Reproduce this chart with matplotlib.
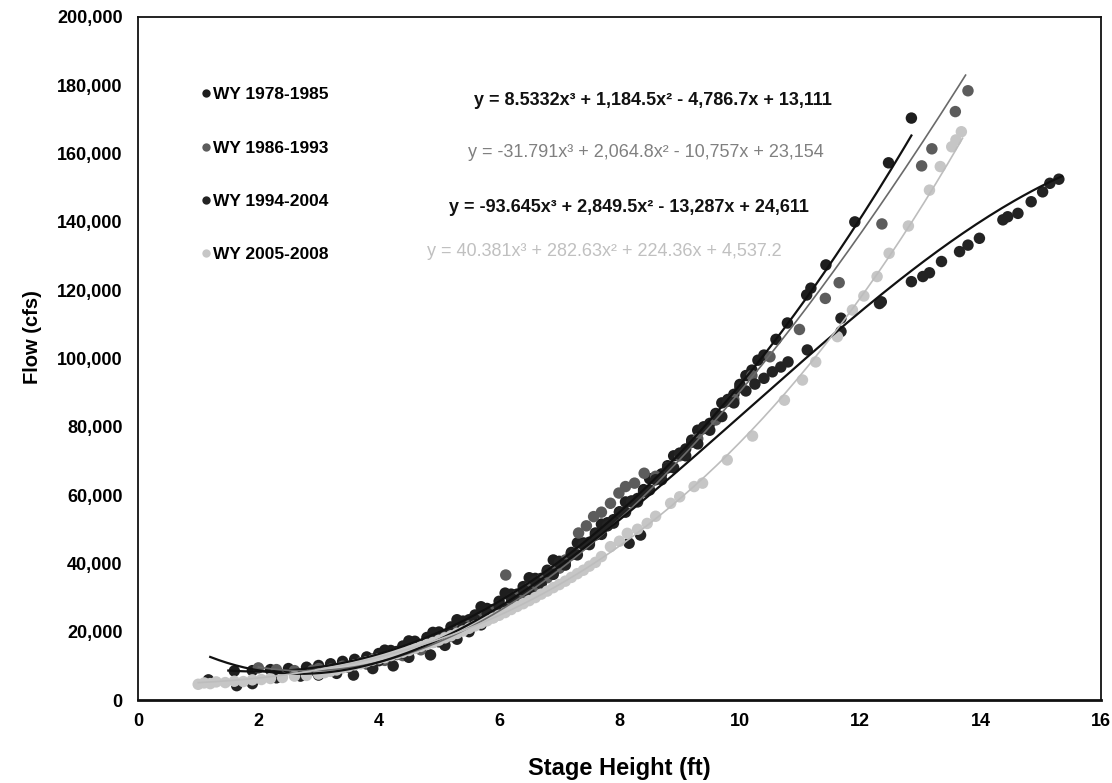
import numpy as np
import matplotlib
matplotlib.use("Agg")
import matplotlib.pyplot as plt
from matplotlib.ticker import StrMethodFormatter
from matplotlib.lines import Line2D

plt.rcParams["font.family"] = ["Liberation Sans", "DejaVu Sans"]

# WY 1978-1985
x_7885 = [1.6, 1.9, 2.2, 2.5, 2.8, 3.0, 3.2, 3.4, 3.6, 3.8, 4.0, 4.2, 4.4, 4.6, 4.8,
          5.0, 5.2, 5.4, 5.6, 5.8, 6.0, 6.2, 6.4, 6.6, 6.8, 7.0, 7.2, 7.4, 7.6, 7.8,
          8.0, 8.2, 8.4, 8.6, 8.8, 9.0, 9.2, 9.4, 9.6, 9.8, 10.0, 10.2, 10.4, 10.6,
          10.79, 11.11, 11.18, 11.43, 11.91, 12.47, 12.85,
          4.3, 4.7, 5.1, 5.5, 5.9, 6.3, 6.7, 7.1, 7.5, 7.9, 8.3, 8.7, 9.1, 9.5, 9.9,
          3.9, 4.1, 4.5, 4.9, 5.3, 5.7, 6.1, 6.5, 6.9, 7.3, 7.7, 8.1, 8.5, 8.9, 9.3,
          9.7, 10.1, 10.3]
y_7885 = [8500, 8600, 8900, 9200, 9600, 10100, 10600, 11300, 11900, 12600, 13600, 14500,
          15800, 17200, 18300, 19900, 21400, 23100, 24900, 26800, 28900, 31000, 33200,
          35600, 38000, 40600, 43200, 46000, 48900, 51900, 55100, 58300, 61600, 65000,
          68600, 72300, 76100, 80000, 83900, 88000, 92400, 96600, 101000, 105600,
          110400, 118600, 120600, 127400, 140000, 157300, 170400,
          14200, 16200, 19000, 23500, 26500, 31000, 35600, 40500, 46200, 52800, 59000,
          66200, 73500, 81000, 89500,
          12000, 14600, 17300, 19800, 23500, 27300, 31300, 35800, 41000, 46000, 51500,
          58000, 64800, 71500, 79000, 87000, 95000, 99500]

# WY 1986-1993
x_8693 = [2.0, 2.3, 2.6, 2.9, 3.2, 3.5, 3.8, 4.1, 4.4, 4.7, 5.0, 5.2, 5.4, 5.6, 5.8,
          6.0, 6.11, 6.2, 6.4, 6.6, 6.8, 7.0, 7.2, 7.32, 7.45, 7.57, 7.7, 7.85, 7.99,
          8.1, 8.25, 8.41, 8.6, 8.8, 9.0, 9.3, 9.6, 9.9, 10.2, 10.5, 10.99, 11.42, 11.65,
          12.36, 13.02, 13.19, 13.58, 13.79,
          3.0, 3.4, 3.7, 4.0, 4.3, 4.6, 4.9, 5.1, 5.3, 5.5, 5.7, 5.9, 6.3, 6.5, 6.7,
          6.9, 7.1]
y_8693 = [9400, 8900, 8600, 8700, 9000, 9600, 10500, 11600, 13000, 14700, 17000, 18600,
          20400, 22200, 24200, 26300, 36600, 28300, 30800, 33200, 35800, 38600, 42500,
          48900, 51000, 53700, 55000, 57600, 60600, 62500, 63500, 66400, 65500, 68000,
          71500, 76500, 82000, 88000, 95000, 100500, 108500, 117600, 122200, 139400,
          156400, 161400, 172300, 178400,
          9200, 9900, 10900, 12000, 13300, 15200, 16900, 18400, 20000, 21800, 23800,
          26000, 30500, 32800, 35200, 37800, 41000]

# WY 1994-2004
x_9404 = [1.17, 1.64, 1.9, 2.3, 2.7, 3.0, 3.3, 3.58, 3.9, 4.24, 4.5, 4.86, 5.1, 5.3, 5.5,
          5.7, 5.9, 6.1, 6.3, 6.5, 6.7, 6.9, 7.1, 7.3, 7.5, 7.7, 7.9, 8.16, 8.35, 8.1,
          8.3, 8.5, 8.7, 8.9, 9.1, 9.3, 9.5, 9.7, 9.9, 10.1, 10.25, 10.4, 10.54, 10.68,
          10.80, 11.12, 11.68, 11.68, 12.32, 12.35, 12.85, 13.04, 13.15, 13.35, 13.65,
          13.79, 13.98, 14.37, 14.45, 14.62, 14.84, 15.03, 15.15, 15.3,
          4.0, 4.4, 4.7, 5.0, 5.2, 5.4, 5.6, 5.8, 6.0, 6.2, 6.4, 6.6, 6.8, 7.0, 7.2,
          7.4, 7.6, 7.8, 8.0, 8.2, 8.4, 8.6, 8.8, 9.0, 9.2, 9.4, 9.6, 9.8, 10.0]
y_9404 = [5900, 4200, 4800, 6500, 7000, 7300, 7800, 7300, 9200, 10000, 12500, 13200,
          16000, 17800, 20000, 22000, 24200, 26500, 28800, 31500, 34000, 36800, 39500,
          42500, 45500, 48500, 51800, 45900, 48300, 55000, 58000, 61500, 64500, 68000,
          71500, 75000, 79000, 83000, 87000, 90500, 92500, 94200, 96100, 97500, 99000,
          102500, 107900, 111800, 116100, 116600, 122500, 124000, 125100, 128400,
          131300, 133200, 135200, 140600, 141500, 142500, 145900, 148800, 151300, 152500,
          11500, 13800, 15800, 17400, 19500, 21500, 23500, 25500, 27600, 29800, 32300,
          34800, 37600, 40200, 42800, 45500, 48300, 51000, 55000, 58000, 61000, 64500,
          68000, 72000, 75500, 79500, 83500, 87500, 91500]

# WY 2005-2008
x_0508 = [1.0, 1.1, 1.2, 1.3, 1.45, 1.6, 1.75, 1.9, 2.05, 2.2, 2.4, 2.6, 2.8, 3.0, 3.2,
          3.4, 3.6, 3.8, 4.0, 4.2, 4.4, 4.6, 4.8, 5.0, 5.2, 5.4, 5.6, 5.8, 6.0, 6.2, 6.4,
          6.6, 6.8, 7.0, 7.2, 7.4, 7.6, 7.85, 8.0, 8.13, 8.3, 8.46, 8.6, 8.85, 9.0, 9.24,
          9.38, 9.79, 10.21, 10.74, 11.04, 11.26, 11.62, 11.87, 12.06, 12.28, 12.48,
          12.80, 13.15, 13.33, 13.52, 13.59, 13.68,
          3.1, 3.3, 3.5, 3.7, 3.9, 4.1, 4.3, 4.5, 4.7, 4.9, 5.1, 5.3, 5.5, 5.7, 5.9,
          6.1, 6.3, 6.5, 6.7, 6.9, 7.1, 7.3, 7.5, 7.7]
y_0508 = [4600, 5000, 4800, 5300, 5100, 5500, 5400, 5900, 6000, 6300, 6600, 7000, 7200,
          7600, 8400, 9400, 10300, 11200, 12100, 13000, 14000, 15100, 16300, 17500,
          18800, 20200, 21700, 23200, 24800, 26500, 28200, 30000, 31900, 33800, 35900,
          38000, 40300, 44900, 46500, 48800, 50000, 51700, 53800, 57600, 59500, 62500,
          63500, 70300, 77300, 87800, 93700, 99000, 106400, 114200, 118300, 124000,
          130800, 138800, 149300, 156200, 162000, 164000, 166400,
          8000, 8800, 9800, 10600, 11700, 12400, 13600, 14500, 15700, 16800, 18200,
          19500, 21000, 22500, 24000, 25600, 27400, 29100, 31000, 32900, 34800, 37000,
          39200, 42000]

# Excel cubic trendline coefficients (as printed on the chart)
coef_7885 = [8.5332, 1184.5, -4786.7, 13111]
coef_8693 = [-31.791, 2064.8, -10757, 23154]
coef_9404 = [-93.645, 2849.5, -13287, 24611]
coef_0508 = [40.381, 282.63, 224.36, 4537.2]

labels = ["WY 1978-1985", "WY 1986-1993", "WY 1994-2004", "WY 2005-2008"]
equations = [
    "y = 8.5332x³ + 1,184.5x² - 4,786.7x + 13,111",
    "y = -31.791x³ + 2,064.8x² - 10,757x + 23,154",
    "y = -93.645x³ + 2,849.5x² - 13,287x + 24,611",
    "y = 40.381x³ + 282.63x² + 224.36x + 4,537.2",
]

series = [
    (x_7885, y_7885, coef_7885, "#1e1e1e", "#111111", 1.6, (1.5, 12.85)),
    (x_8693, y_8693, coef_8693, "#5c5c5c", "#6a6a6a", 1.2, (2.0, 13.75)),
    (x_9404, y_9404, coef_9404, "#232323", "#111111", 1.6, (1.2, 15.35)),
    (x_0508, y_0508, coef_0508, "#c6c6c6", "#bdbdbd", 1.2, (1.0, 13.7)),
]

fig = plt.figure(figsize=(11.12, 7.83), dpi=100)
ax = fig.add_axes([0.1241, 0.106, 0.866, 0.8723])

for xs, ys, coef, mcol, lcol, lw, rng in series:
    ax.scatter(xs, ys, s=68, color=mcol, edgecolors="none", zorder=2)

for xs, ys, coef, mcol, lcol, lw, rng in series:
    xx = np.linspace(rng[0], rng[1], 200)
    ax.plot(xx, np.polyval(coef, xx), color=lcol, lw=lw, zorder=3)

# equations
eq_pos = [(8.55, 175500), (8.44, 160300), (8.15, 144200), (7.75, 131400)]
eq_style = [("#111111", "bold"), ("#808080", "normal"),
            ("#111111", "bold"), ("#c0c0c0", "normal")]
for txt, (ex, ey), (c, w) in zip(equations, eq_pos, eq_style):
    ax.text(ex, ey, txt, ha="center", va="center", fontsize=13, color=c,
            fontweight=w, zorder=4)

# legend
handles = [Line2D([], [], ls="none", marker="o", markersize=6,
                  markerfacecolor=s[3], markeredgecolor="none") for s in series]
ax.legend(handles, labels, loc="upper left", bbox_to_anchor=(0.05, 0.92),
          frameon=False, handlelength=0.5, handletextpad=0.15, labelspacing=2.2,
          prop={"weight": "bold", "size": 12.5})

ax.set_xlim(0, 16)
ax.set_ylim(0, 200000)
ax.set_xticks(range(0, 17, 2))
ax.set_yticks(range(0, 200001, 20000))
ax.yaxis.set_major_formatter(StrMethodFormatter("{x:,.0f}"))
ax.tick_params(length=0, labelsize=13)
ax.tick_params(axis="y", pad=11)
ax.tick_params(axis="x", pad=9)
for lab in ax.get_xticklabels() + ax.get_yticklabels():
    lab.set_fontweight("bold")
for sp in ax.spines.values():
    sp.set_linewidth(1.3)
    sp.set_color("#111111")
ax.spines["bottom"].set_linewidth(2)

ax.set_xlabel("Stage Height (ft)", fontsize=17, fontweight="bold", labelpad=20)
ax.set_ylabel("Flow (cfs)", fontsize=14.5, fontweight="bold")
ax.yaxis.set_label_coords(-0.1, 0.531)

fig.savefig("out.png", dpi=100)
